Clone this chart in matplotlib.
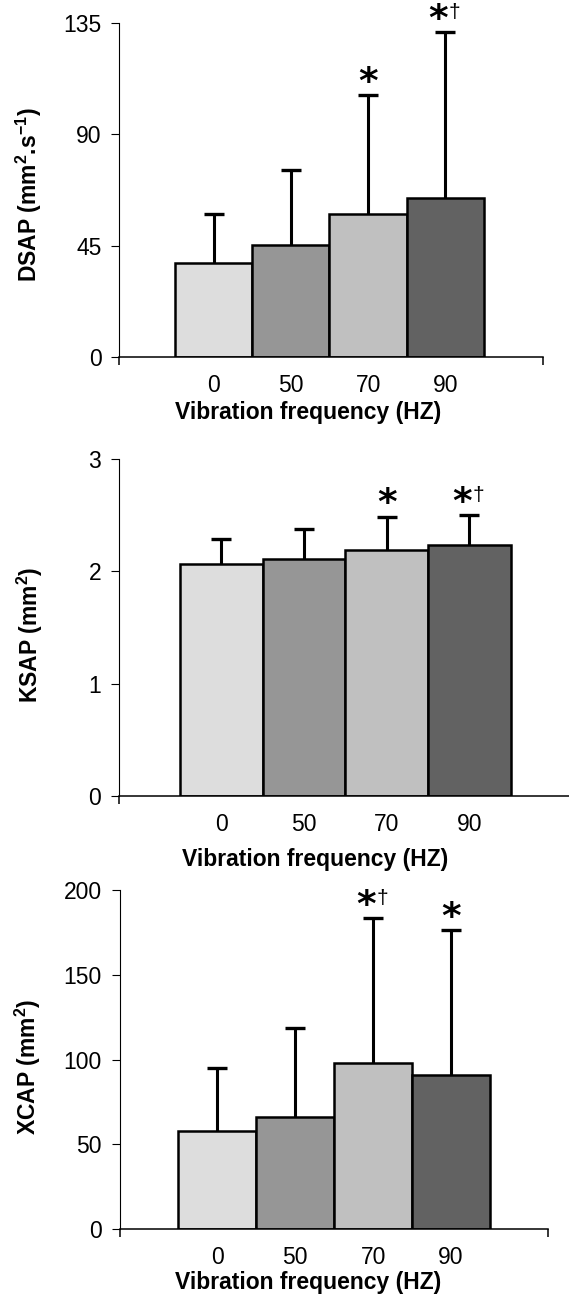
import matplotlib
matplotlib.use('Agg')
import matplotlib.pyplot as plt

plt.rcParams['font.family'] = ['Liberation Sans', 'DejaVu Sans']
plt.rcParams['mathtext.fontset'] = 'custom'
plt.rcParams['mathtext.rm'] = 'Liberation Sans:bold'
plt.rcParams['mathtext.bf'] = 'Liberation Sans:bold'
plt.rcParams['mathtext.default'] = 'bf'

# data
freqs = ['0', '50', '70', '90']
colors = ['#dddddd', '#969696', '#c0c0c0', '#626262']

dsap_mean = [37.9, 45.3, 57.7, 64.3]
dsap_sd = [19.8, 30.3, 48.0, 66.8]
dsap_marks = ['', '', '*', '*†']

ksap_mean = [2.065, 2.11, 2.19, 2.234]
ksap_sd = [0.226, 0.264, 0.294, 0.265]
ksap_marks = ['', '', '*', '*†']

xcap_mean = [58.0, 66.4, 98.0, 91.0]
xcap_sd = [37.1, 52.1, 85.3, 85.2]
xcap_marks = ['', '', '*†', '*']

fig = plt.figure(figsize=(5.69, 13.10), dpi=100)

panels = [
    dict(rect=[0.2100, 0.7273, 0.7443, 0.2554], xlim=(-1.218, 4.264), ylim=(0, 135),
         yticks=[0, 45, 90, 135], ylabel=r'DSAP (mm$^{2}$.s$^{-1}$)',
         ylpos=(-0.213, 0.485), xlpos=(0.445, -0.166), ends=2,
         mean=dsap_mean, sd=dsap_sd, marks=dsap_marks),
    dict(rect=[0.2097, 0.3924, 0.7903, 0.2573], xlim=(-1.234, 4.205), ylim=(0, 3),
         yticks=[0, 1, 2, 3], ylabel=r'KSAP (mm$^{2}$)',
         ylpos=(-0.199, 0.478), xlpos=(0.435, -0.19), ends=1,
         mean=ksap_mean, sd=ksap_sd, marks=ksap_marks),
    dict(rect=[0.2109, 0.0616, 0.7527, 0.2590], xlim=(-1.248, 4.248), ylim=(0, 200),
         yticks=[0, 50, 100, 150, 200], ylabel=r'XCAP (mm$^{2}$)',
         ylpos=(-0.215, 0.478), xlpos=(0.439, -0.158), ends=2,
         mean=xcap_mean, sd=xcap_sd, marks=xcap_marks),
]

for p in panels:
    ax = fig.add_axes(p['rect'])
    x = range(len(freqs))
    ax.bar(x, p['mean'], width=1.0, color=colors, edgecolor='black',
           linewidth=1.8, zorder=2)
    eb = ax.errorbar(x, p['mean'], yerr=[[0] * 4, p['sd']], fmt='none',
                     ecolor='black', elinewidth=2.2, capsize=7.5, capthick=2.4,
                     zorder=3)
    # only the upper cap
    eb[1][0].set_visible(False)

    # significance marks above the caps
    for i, m in enumerate(p['marks']):
        if not m:
            continue
        top = p['mean'][i] + p['sd'][i]
        dx = 0 if len(m) == 1 else -5
        ax.annotate('*', xy=(i, top), xytext=(dx, 9), textcoords='offset points',
                    ha='center', va='center', fontsize=27, fontweight='bold',
                    family=['DejaVu Sans'])
        if '†' in m:
            ax.annotate('†', xy=(i, top), xytext=(6.5, 14), textcoords='offset points',
                        ha='center', va='center', fontsize=15)

    ax.set_xlim(p['xlim'])
    ax.set_ylim(p['ylim'])
    ax.set_yticks(p['yticks'])
    ax.set_xticks(list(x))
    ax.set_xticklabels(freqs)
    if p['ends'] == 2:
        ax.set_xticks(list(p['xlim']), minor=True)
    else:
        ax.set_xticks([p['xlim'][0]], minor=True)

    ax.spines['right'].set_visible(False)
    ax.spines['top'].set_visible(False)
    ax.spines['left'].set_linewidth(0.8)
    ax.spines['bottom'].set_linewidth(1.1)
    ax.tick_params(axis='y', direction='out', length=6, width=0.8, pad=7, labelsize=16.5)
    ax.tick_params(axis='x', which='major', length=0, pad=12, labelsize=16.5)
    ax.tick_params(axis='x', which='minor', direction='out', length=6, width=1.1)

    ax.set_ylabel(p['ylabel'], fontsize=16.5, fontweight='bold', va='center')
    ax.yaxis.set_label_coords(*p['ylpos'])
    ax.set_xlabel('Vibration frequency (HZ)', fontsize=16.5, fontweight='bold', va='center')
    ax.xaxis.set_label_coords(*p['xlpos'])

fig.savefig('out.png', dpi=100)
